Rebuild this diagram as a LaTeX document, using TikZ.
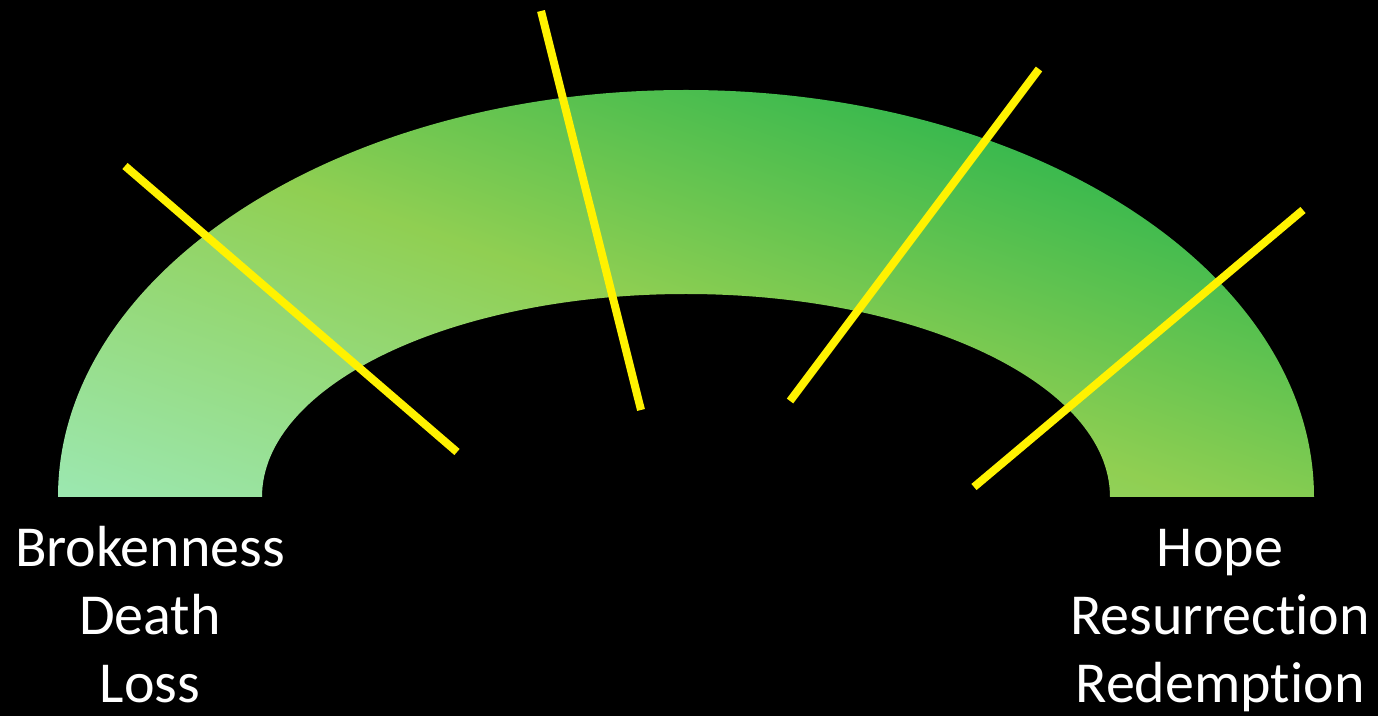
\documentclass[tikz,border=0pt]{standalone}
\usepackage{fontspec}
\setmainfont[Ligatures=NoCommon]{Carlito}
\definecolor{mintg}{RGB}{156,232,178}
\definecolor{limeg}{RGB}{144,207,82}
\definecolor{deepg}{RGB}{58,185,78}
\pgfdeclareverticalshading{archfill}{100bp}{color(0bp)=(mintg); color(34.6bp)=(mintg); color(49bp)=(limeg); color(59.4bp)=(deepg); color(100bp)=(deepg)}

\begin{document}
\begin{tikzpicture}[x=0.5pt,y=-0.5pt, ray/.style={draw=yellow, line width=4pt}, lbl/.style={text=white, align=center, inner sep=0pt, font=\fontsize{29}{34}\selectfont}]
\fill[black] (0,0) rectangle (1378,716);
\useasboundingbox (0,0) rectangle (1378,716);
% arch
\begin{scope}
\clip (58,497) arc[start angle=180, end angle=360, x radius=628, y radius=407] -- (1110,497) arc[start angle=360, end angle=180, x radius=424, y radius=203] -- cycle;
\shade[shading=archfill, shading angle=-19] (36,-356.5) rectangle (1336,943.5);
\end{scope}
% rays
\foreach \xa/\ya/\xb/\yb in {125/166/457/452, 541/11/641/410, 1039/69/790/401, 1303/210/974/487}
  \draw[ray] (\xa,\ya) -- (\xb,\yb);
% labels
\node[lbl, anchor=base] (loss) at (150,703) {Brokenness\\Death\\Loss};
\node[lbl, anchor=base] (hope) at (1220,703) {Hope\\Resurrection\\Redemption};
\end{tikzpicture}
\end{document}
